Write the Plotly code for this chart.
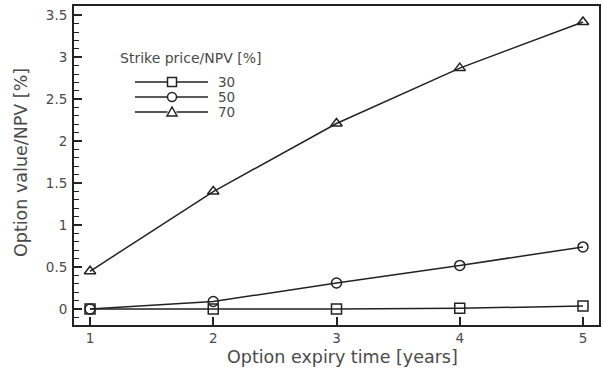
import plotly.graph_objects as go

years = [1, 2, 3, 4, 5]
strike_labels = ["30", "50", "70"]
val_30 = [0.0, 0.0, 0.0, 0.01, 0.035]
val_50 = [0.0, 0.09, 0.31, 0.52, 0.74]
val_70 = [0.45, 1.40, 2.21, 2.87, 3.42]
series = [val_30, val_50, val_70]
symbols = ["square-open", "circle-open", "triangle-up-open"]
y_ticks = [0, 0.5, 1, 1.5, 2, 2.5, 3, 3.5]
y_ticktext = ["0", "0.5", "1", "1.5", "2", "2.5", "3", "3.5"]
legend_title = "Strike price/NPV [%]"

INK = "#222222"
TXT = "#4a4a4a"
font = "DejaVu Sans, Liberation Sans, Arial, sans-serif"
W, H = 603, 373
L, R, T, B = 74, 4, 6, 48
PW, PH = W - L - R, H - T - B


def px(x):
    return (x - L) / PW


def py(y):
    return 1 - (y - T) / PH


fig = go.Figure()
for lab, vals, sym in zip(strike_labels, series, symbols):
    fig.add_trace(go.Scatter(
        x=years, y=vals, name=lab, mode="lines+markers",
        line=dict(color=INK, width=1.5),
        marker=dict(symbol=sym, size=10, color=INK, line=dict(width=1.5, color=INK)),
        showlegend=False,
    ))

# Hand-drawn legend key (sample line + marker + label per series)
shapes = []
annotations = []
leg_y = [82, 97, 112]
x0, x1, xm = 135, 208, 172
s = 4.5
for lab, yy, sym in zip(strike_labels, leg_y, symbols):
    shapes.append(dict(type="line", xref="paper", yref="paper",
                       x0=px(x0), x1=px(xm - s), y0=py(yy), y1=py(yy),
                       line=dict(color=INK, width=1.5)))
    shapes.append(dict(type="line", xref="paper", yref="paper",
                       x0=px(xm + s), x1=px(x1), y0=py(yy), y1=py(yy),
                       line=dict(color=INK, width=1.5)))
    if sym.startswith("square"):
        shapes.append(dict(type="rect", xref="paper", yref="paper",
                           x0=px(xm - s), x1=px(xm + s), y0=py(yy - s), y1=py(yy + s),
                           line=dict(color=INK, width=1.5), fillcolor="white"))
    elif sym.startswith("circle"):
        shapes.append(dict(type="circle", xref="paper", yref="paper",
                           x0=px(xm - s), x1=px(xm + s), y0=py(yy - s), y1=py(yy + s),
                           line=dict(color=INK, width=1.5), fillcolor="white"))
    else:
        pts = [(xm, yy - s - 0.5), (xm - s - 0.5, yy + s - 0.5), (xm + s + 0.5, yy + s - 0.5)]
        path = "M " + " L ".join(f"{px(a):.5f},{py(b):.5f}" for a, b in pts) + " Z"
        shapes.append(dict(type="path", xref="paper", yref="paper", path=path,
                           line=dict(color=INK, width=1.5), fillcolor="white"))
    annotations.append(dict(text=lab, xref="paper", yref="paper",
                            x=px(216), y=py(yy), xanchor="left", yanchor="middle",
                            showarrow=False, font=dict(size=13.5, color=TXT)))

annotations += [
    dict(text=legend_title, xref="paper", yref="paper",
         x=px(118), y=py(58), xanchor="left", yanchor="middle", showarrow=False,
         font=dict(size=14, color=TXT)),
    dict(text="Option expiry time [years]", xref="paper", yref="paper",
         x=px(342), y=py(357), xanchor="center", yanchor="middle", showarrow=False,
         font=dict(size=17.5, color=TXT)),
    dict(text="Option value/NPV [%]", xref="paper", yref="paper",
         x=px(21), y=py(163), xanchor="center", yanchor="middle", showarrow=False,
         textangle=-90, font=dict(size=17.5, color=TXT)),
]

fig.update_layout(
    width=W, height=H,
    margin=dict(l=L, r=R, t=T, b=B, autoexpand=False),
    paper_bgcolor="white", plot_bgcolor="white",
    font=dict(family=font, size=14, color=TXT),
    showlegend=False,
    hovermode=False,
    xaxis=dict(
        range=[0.87, 5.13], tickvals=years, ticktext=[str(v) for v in years],
        ticks="inside", ticklen=8, tickwidth=1.5, tickcolor=INK,
        showline=True, linecolor=INK, linewidth=2, mirror=True,
        showgrid=False, zeroline=False, automargin=False,
        tickfont=dict(size=13.5, color=TXT),
    ),
    yaxis=dict(
        range=[-0.19, 3.61], tickvals=y_ticks, ticktext=y_ticktext,
        ticks="inside", ticklen=8, tickwidth=1.5, tickcolor=INK,
        minor=dict(dtick=0.1, ticks="inside", ticklen=5, tickcolor=INK, tickwidth=1),
        showline=True, linecolor=INK, linewidth=2, mirror=True,
        showgrid=False, zeroline=False, automargin=False,
        tickfont=dict(size=13.5, color=TXT), ticklabelstandoff=2,
    ),
    shapes=shapes,
    annotations=annotations,
)

fig.write_html("out.html", config={"displayModeBar": False},
               post_script="document.body.style.margin='0px';")
